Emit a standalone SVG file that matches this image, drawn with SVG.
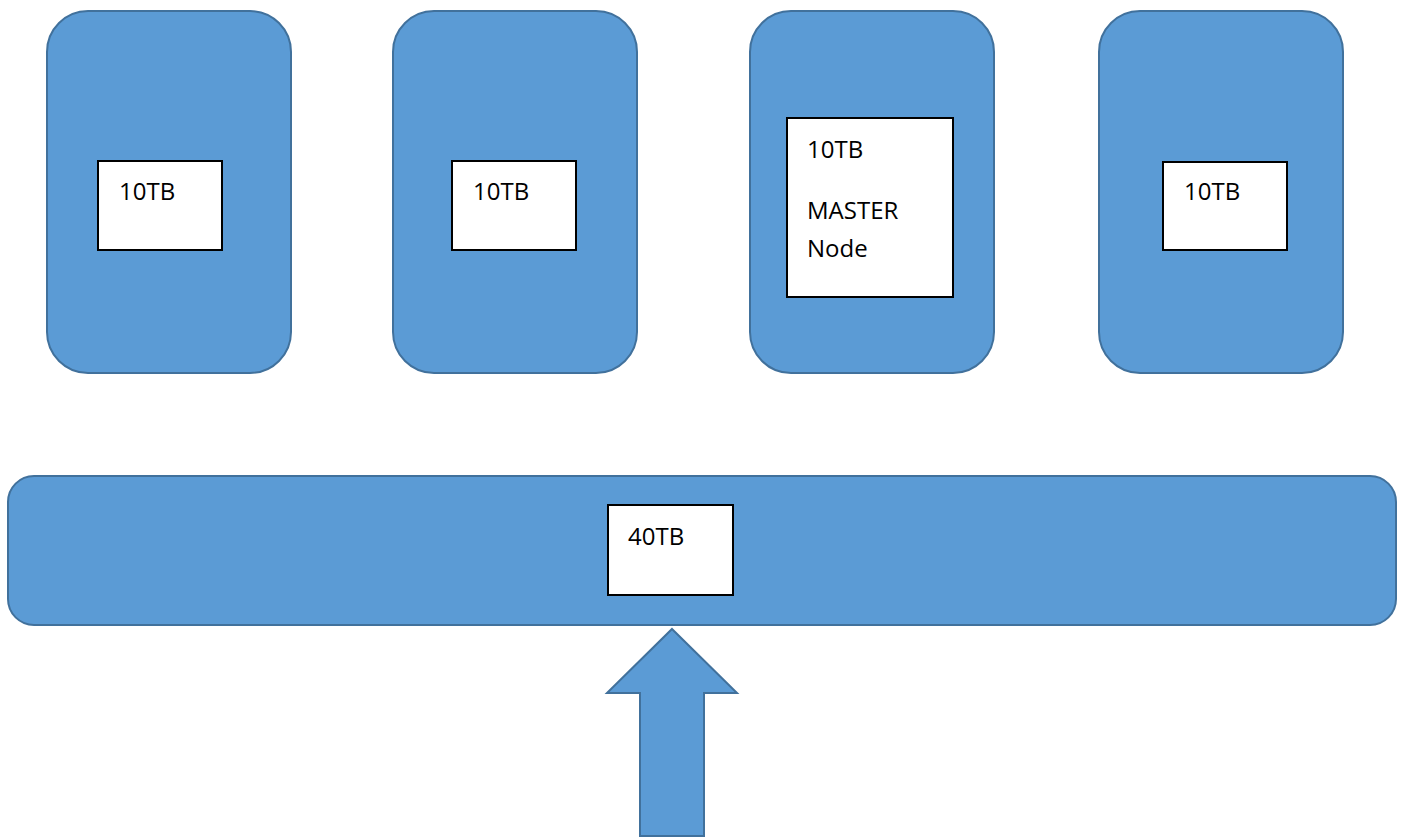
<svg xmlns="http://www.w3.org/2000/svg" width="1403" height="837" viewBox="0 0 1403 837">
<style>
.n{fill:#5B9BD5;stroke:#41719C;stroke-width:2}
.b{fill:#fff;stroke:#000;stroke-width:2}
text{font-family:"Open Sans","Liberation Sans",sans-serif;font-size:24px;fill:#000}
</style>
<rect width="1403" height="837" fill="#fff"/>
<g id="node1"><rect class="n" x="47" y="11" width="244" height="362" rx="41"/><rect class="b" x="98" y="161" width="124" height="89"/><text x="119" y="200">10TB</text></g>
<g id="node2"><rect class="n" x="393" y="11" width="244" height="362" rx="41"/><rect class="b" x="452" y="161" width="124" height="89"/><text x="473" y="200">10TB</text></g>
<g id="node3"><rect class="n" x="750" y="11" width="244" height="362" rx="41"/><rect class="b" x="787" y="118" width="166" height="179"/><text x="807" y="158">10TB</text><text x="807" y="219">MASTER</text><text x="807" y="257">Node</text></g>
<g id="node4"><rect class="n" x="1099" y="11" width="244" height="362" rx="41"/><rect class="b" x="1163" y="162" width="124" height="88"/><text x="1184" y="200">10TB</text></g>
<g id="bar"><rect class="n" x="8" y="476" width="1388" height="149" rx="26"/><rect class="b" x="608" y="505" width="125" height="90"/><text x="628" y="545">40TB</text></g>
<g id="connectors"><polygon class="n" points="672,629 737,693 704,693 704,836 640,836 640,693 607,693"/></g>
</svg>
